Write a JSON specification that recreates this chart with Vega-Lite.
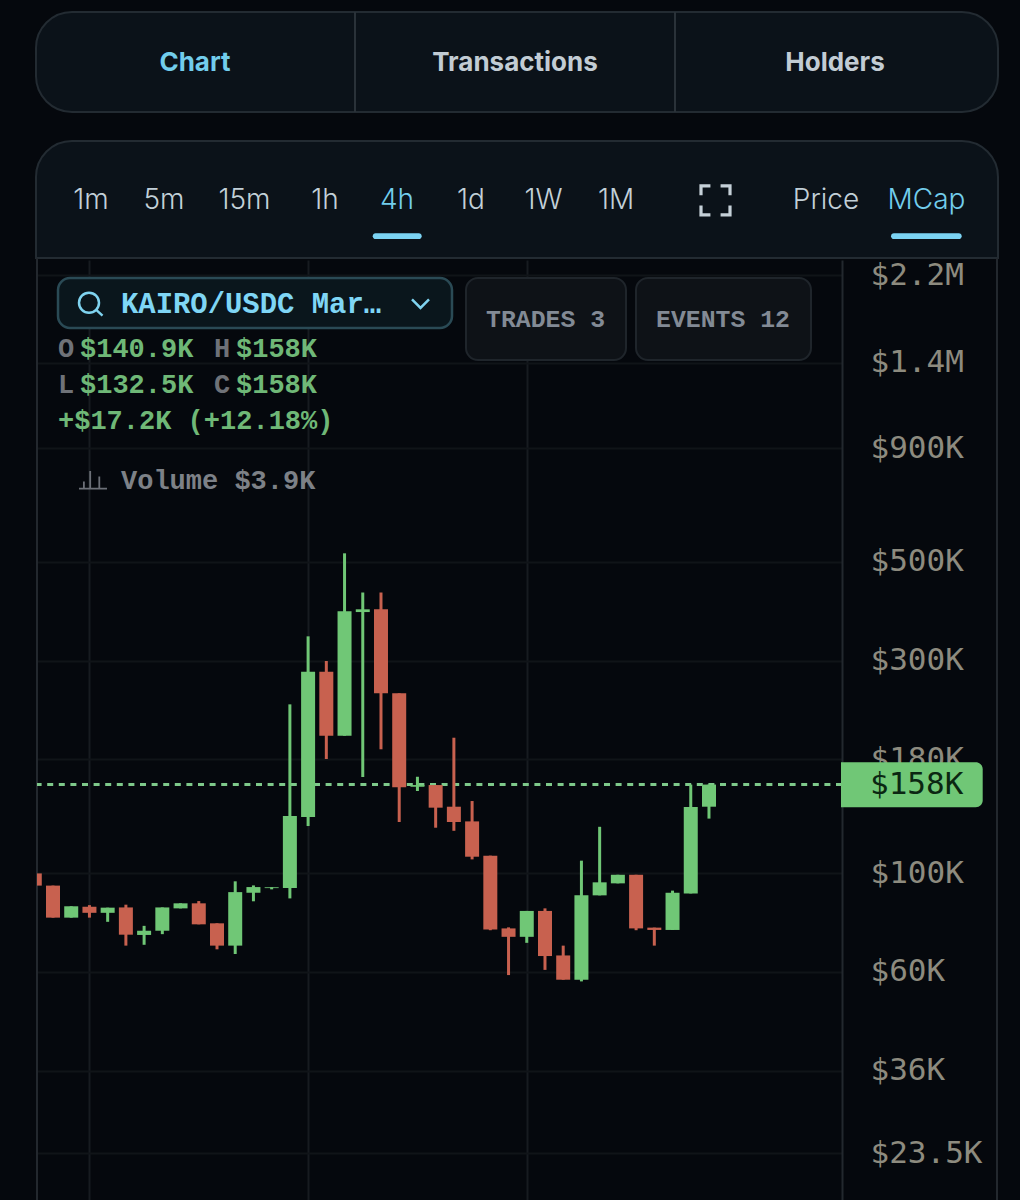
{
"$schema":"https://vega.github.io/schema/vega-lite/v6.json",
"width":805,"height":940,
"autosize":{"type":"none"},
"padding":{"left":37,"top":260,"right":178,"bottom":0},
"background":"#05080d",
"view":{"stroke":null,"fill":null},
"config":{"text":{"align":"left","baseline":"middle"},"view":{"stroke":null}},
"datasets":{
"ui":[{}],
"last":[{"close":158000}],
"candles":[
{"t":-1,"open":99800,"high":99800,"low":93700,"close":93700},
{"t":0,"open":93700,"high":93700,"low":79400,"close":79400},
{"t":1,"open":79400,"high":84200,"low":79400,"close":84200},
{"t":2,"open":84000,"high":84700,"low":79400,"close":81400},
{"t":3,"open":81400,"high":83600,"low":77700,"close":83600},
{"t":4,"open":83700,"high":84900,"low":68700,"close":72700},
{"t":5,"open":72600,"high":76100,"low":69000,"close":74200},
{"t":6,"open":74200,"high":83700,"low":72900,"close":83700},
{"t":7,"open":83300,"high":85500,"low":83300,"close":85500},
{"t":8,"open":85500,"high":86500,"low":76700,"close":76700},
{"t":9,"open":77100,"high":77100,"low":67400,"close":68700},
{"t":10,"open":68700,"high":95800,"low":65800,"close":90600},
{"t":11,"open":90300,"high":93800,"low":86400,"close":93000},
{"t":12,"open":92500,"high":92900,"low":91900,"close":92900},
{"t":13,"open":92500,"high":239200,"low":87700,"close":134300},
{"t":14,"open":133600,"high":340000,"low":127500,"close":283200},
{"t":15,"open":283200,"high":299300,"low":180300,"close":203400},
{"t":16,"open":203400,"high":522300,"low":203400,"close":386900},
{"t":17,"open":385500,"high":426500,"low":164300,"close":391000},
{"t":18,"open":391000,"high":426500,"low":189600,"close":253200},
{"t":19,"open":253200,"high":253200,"low":130200,"close":155800},
{"t":20,"open":156200,"high":164500,"low":152800,"close":157600},
{"t":21,"open":157600,"high":157600,"low":126400,"close":140200},
{"t":22,"open":140900,"high":201300,"low":124400,"close":130200},
{"t":23,"open":130600,"high":145100,"low":107300,"close":108800},
{"t":24,"open":109400,"high":109400,"low":74400,"close":74700},
{"t":25,"open":75100,"high":75500,"low":59000,"close":71900},
{"t":26,"open":71900,"high":82200,"low":69700,"close":82200},
{"t":27,"open":82200,"high":83300,"low":60600,"close":65100},
{"t":28,"open":65300,"high":68700,"low":57600,"close":57600},
{"t":29,"open":57600,"high":106600,"low":57100,"close":89200},
{"t":30,"open":89100,"high":127000,"low":89100,"close":95300},
{"t":31,"open":94800,"high":99100,"low":94800,"close":99100},
{"t":32,"open":99100,"high":99100,"low":74400,"close":75100},
{"t":33,"open":75400,"high":75400,"low":68700,"close":74500},
{"t":34,"open":74500,"high":91300,"low":74500,"close":90300},
{"t":35,"open":90000,"high":158000,"low":90000,"close":140700},
{"t":36,"open":140900,"high":158000,"low":132500,"close":158000}
]},
"layer":[
{"data":{"name":"ui"},"mark":{"type":"rect","fill":"#0b1219","stroke":"#232b32","strokeWidth":2,"cornerRadius":36},"encoding":{"x":{"value":-1},"x2":{"value":961},"y":{"value":-248},"y2":{"value":-148}}},
{"data":{"name":"ui"},"mark":{"type":"rect","fill":"#0b1219","stroke":"#232b32","strokeWidth":2,"cornerRadiusTopLeft":36,"cornerRadiusTopRight":36},"encoding":{"x":{"value":-1},"x2":{"value":961},"y":{"value":-119},"y2":{"value":-2}}},
{"data":{"name":"ui"},"mark":{"type":"rule","stroke":"#2a3239","strokeWidth":2},"encoding":{"x":{"value":318},"y":{"value":-248},"y2":{"value":-148}}},
{"data":{"name":"ui"},"mark":{"type":"rule","stroke":"#2a3239","strokeWidth":2},"encoding":{"x":{"value":638},"y":{"value":-248},"y2":{"value":-148}}},
{"data":{"name":"ui"},"mark":{"type":"rule","stroke":"#23282e","strokeWidth":2},"encoding":{"x":{"value":0},"y":{"value":-2},"y2":{"value":940}}},
{"data":{"name":"ui"},"mark":{"type":"rule","stroke":"#23282e","strokeWidth":2},"encoding":{"x":{"value":960},"y":{"value":-2},"y2":{"value":940}}},
{"data":{"name":"ui"},"mark":{"type":"text","text":"Chart","font":"Inter","fontWeight":700,"fontSize":26,"fill":"#72cdec","align":"center"},"encoding":{"x":{"value":158},"y":{"value":-197.5}}},
{"data":{"name":"ui"},"mark":{"type":"text","text":"Transactions","font":"Inter","fontWeight":700,"fontSize":26,"fill":"#c2ccd4","align":"center"},"encoding":{"x":{"value":478},"y":{"value":-197.5}}},
{"data":{"name":"ui"},"mark":{"type":"text","text":"Holders","font":"Inter","fontWeight":700,"fontSize":26,"fill":"#c2ccd4","align":"center"},"encoding":{"x":{"value":798},"y":{"value":-197.5}}},
{"data":{"name":"ui"},"mark":{"type":"text","text":"1m","font":"Inter","fontWeight":300,"fontSize":28,"fill":"#c2d0d8","align":"center"},"encoding":{"x":{"value":54},"y":{"value":-59}}},
{"data":{"name":"ui"},"mark":{"type":"text","text":"5m","font":"Inter","fontWeight":300,"fontSize":28,"fill":"#c2d0d8","align":"center"},"encoding":{"x":{"value":127},"y":{"value":-59}}},
{"data":{"name":"ui"},"mark":{"type":"text","text":"15m","font":"Inter","fontWeight":300,"fontSize":28,"fill":"#c2d0d8","align":"center"},"encoding":{"x":{"value":207.5},"y":{"value":-59}}},
{"data":{"name":"ui"},"mark":{"type":"text","text":"1h","font":"Inter","fontWeight":300,"fontSize":28,"fill":"#c2d0d8","align":"center"},"encoding":{"x":{"value":288},"y":{"value":-59}}},
{"data":{"name":"ui"},"mark":{"type":"text","text":"4h","font":"Inter","fontWeight":300,"fontSize":28,"fill":"#72cdec","align":"center"},"encoding":{"x":{"value":360},"y":{"value":-59}}},
{"data":{"name":"ui"},"mark":{"type":"text","text":"1d","font":"Inter","fontWeight":300,"fontSize":28,"fill":"#c2d0d8","align":"center"},"encoding":{"x":{"value":434},"y":{"value":-59}}},
{"data":{"name":"ui"},"mark":{"type":"text","text":"1W","font":"Inter","fontWeight":300,"fontSize":28,"fill":"#c2d0d8","align":"center"},"encoding":{"x":{"value":506.5},"y":{"value":-59}}},
{"data":{"name":"ui"},"mark":{"type":"text","text":"1M","font":"Inter","fontWeight":300,"fontSize":28,"fill":"#c2d0d8","align":"center"},"encoding":{"x":{"value":579},"y":{"value":-59}}},
{"data":{"name":"ui"},"mark":{"type":"text","text":"Price","font":"Inter","fontWeight":300,"fontSize":28,"fill":"#c2d0d8","align":"center"},"encoding":{"x":{"value":789},"y":{"value":-59}}},
{"data":{"name":"ui"},"mark":{"type":"text","text":"MCap","font":"Inter","fontWeight":300,"fontSize":28,"fill":"#72cdec","align":"center"},"encoding":{"x":{"value":889.5},"y":{"value":-59}}},
{"data":{"name":"ui"},"mark":{"type":"rect","fill":"#7bd3f3","cornerRadius":3},"encoding":{"x":{"value":335.7},"x2":{"value":384.7},"y":{"value":-26.7},"y2":{"value":-21}}},
{"data":{"name":"ui"},"mark":{"type":"rect","fill":"#7bd3f3","cornerRadius":3},"encoding":{"x":{"value":854},"x2":{"value":924.7},"y":{"value":-26.7},"y2":{"value":-21}}},
{"data":{"name":"ui"},"mark":{"type":"point","shape":"M-1,-0.35 L-1,-1 L-0.35,-1 M0.35,-1 L1,-1 L1,-0.35 M1,0.35 L1,1 L0.35,1 M-0.35,1 L-1,1 L-1,0.35","size":841,"filled":false,"stroke":"#c5d0d8","strokeWidth":3.2,"opacity":1},"encoding":{"x":{"value":678.5},"y":{"value":-59.7}}},
{"data":{"name":"ui"},"mark":{"type":"rect","fill":"#0a161c","stroke":"#2a4a55","strokeWidth":2.5,"cornerRadius":12},"encoding":{"x":{"value":21},"x2":{"value":415},"y":{"value":18},"y2":{"value":68}}},
{"data":{"name":"ui"},"mark":{"type":"point","shape":"M1,0 A1,1 0 1,1 -1,0 A1,1 0 1,1 1,0 M0.72,0.72 L1.35,1.3","size":400,"filled":false,"stroke":"#7fd3ef","strokeWidth":2.5,"opacity":1},"encoding":{"x":{"value":52},"y":{"value":42.7}}},
{"data":{"name":"ui"},"mark":{"type":"text","text":"KAIRO/USDC Mar…","font":"Liberation Mono","fontWeight":700,"fontSize":28.9,"fill":"#7fd6f5"},"encoding":{"x":{"value":84},"y":{"value":43.5}}},
{"data":{"name":"ui"},"mark":{"type":"point","shape":"M-1,-0.5 L0,0.5 L1,-0.5","size":289,"filled":false,"stroke":"#7fd3ef","strokeWidth":2.5,"opacity":1},"encoding":{"x":{"value":383.5},"y":{"value":43.7}}},
{"data":{"name":"ui"},"mark":{"type":"rect","fill":"#0e1217","stroke":"#1f252b","strokeWidth":2,"cornerRadius":12},"encoding":{"x":{"value":429},"x2":{"value":589},"y":{"value":18},"y2":{"value":100}}},
{"data":{"name":"ui"},"mark":{"type":"rect","fill":"#0e1217","stroke":"#1f252b","strokeWidth":2,"cornerRadius":12},"encoding":{"x":{"value":599},"x2":{"value":774},"y":{"value":18},"y2":{"value":100}}},
{"data":{"name":"ui"},"mark":{"type":"text","text":"TRADES 3","font":"Liberation Mono","fontWeight":700,"fontSize":24.8,"fill":"#828a95"},"encoding":{"x":{"value":449},"y":{"value":59.5}}},
{"data":{"name":"ui"},"mark":{"type":"text","text":"EVENTS 12","font":"Liberation Mono","fontWeight":700,"fontSize":24.8,"fill":"#828a95"},"encoding":{"x":{"value":619},"y":{"value":59.5}}},
{"data":{"name":"ui"},"mark":{"type":"text","text":"O","font":"Liberation Mono","fontWeight":700,"fontSize":27,"fill":"#6f7278"},"encoding":{"x":{"value":21},"y":{"value":89}}},
{"data":{"name":"ui"},"mark":{"type":"text","text":"$140.9K","font":"Liberation Mono","fontWeight":700,"fontSize":27,"fill":"#6fb877"},"encoding":{"x":{"value":43},"y":{"value":89}}},
{"data":{"name":"ui"},"mark":{"type":"text","text":"H","font":"Liberation Mono","fontWeight":700,"fontSize":27,"fill":"#6f7278"},"encoding":{"x":{"value":177},"y":{"value":89}}},
{"data":{"name":"ui"},"mark":{"type":"text","text":"$158K","font":"Liberation Mono","fontWeight":700,"fontSize":27,"fill":"#6fb877"},"encoding":{"x":{"value":199},"y":{"value":89}}},
{"data":{"name":"ui"},"mark":{"type":"text","text":"L","font":"Liberation Mono","fontWeight":700,"fontSize":27,"fill":"#6f7278"},"encoding":{"x":{"value":21},"y":{"value":125}}},
{"data":{"name":"ui"},"mark":{"type":"text","text":"$132.5K","font":"Liberation Mono","fontWeight":700,"fontSize":27,"fill":"#6fb877"},"encoding":{"x":{"value":43},"y":{"value":125}}},
{"data":{"name":"ui"},"mark":{"type":"text","text":"C","font":"Liberation Mono","fontWeight":700,"fontSize":27,"fill":"#6f7278"},"encoding":{"x":{"value":177},"y":{"value":125}}},
{"data":{"name":"ui"},"mark":{"type":"text","text":"$158K","font":"Liberation Mono","fontWeight":700,"fontSize":27,"fill":"#6fb877"},"encoding":{"x":{"value":199},"y":{"value":125}}},
{"data":{"name":"ui"},"mark":{"type":"text","text":"+$17.2K (+12.18%)","font":"Liberation Mono","fontWeight":700,"fontSize":27,"fill":"#6fb877"},"encoding":{"x":{"value":21},"y":{"value":161}}},
{"data":{"name":"ui"},"mark":{"type":"point","shape":"M-1,0.62 L1,0.62 M-0.65,0.6 L-0.65,0.1 M-0.2,0.6 L-0.2,-0.65 M0.45,0.6 L0.45,-0.25","size":784,"filled":false,"stroke":"#6c7078","strokeWidth":1.8,"opacity":1},"encoding":{"x":{"value":56},"y":{"value":220}}},
{"data":{"name":"ui"},"mark":{"type":"text","text":"Volume $3.9K","font":"Liberation Mono","fontWeight":700,"fontSize":27,"fill":"#7d8187"},"encoding":{"x":{"value":84},"y":{"value":221}}},
{"data":{"name":"last"},"mark":{"type":"rule","stroke":"#7ec98a","strokeWidth":3,"strokeDash":[6,5.6]},"encoding":{"y":{"field":"close","type":"quantitative"}}},
{"data":{"name":"candles"},"mark":{"type":"rule","strokeWidth":3,"clip":true},
 "encoding":{
  "x":{"field":"t","type":"quantitative","scale":{"domain":[-0.878,43.3],"nice":false,"zero":false,"padding":0},
   "axis":{"title":null,"values":[2,14,26],"labels":false,"ticks":false,"domain":false,"grid":true,"gridColor":"#171b20","gridWidth":2}},
  "y":{"field":"low","type":"quantitative","scale":{"type":"log","domain":[18440,2380000],"nice":false},
   "axis":{"title":null,"orient":"right","values":[2200000,1400000,900000,500000,300000,180000,100000,60000,36000,23500],
    "labelExpr":"'$' + (datum.value >= 1000000 ? datum.value / 1000000 + 'M' : datum.value / 1000 + 'K')",
    "labelFont":"DejaVu Sans Mono","labelFontSize":31,"labelColor":"#8d8b7f","labelAlign":"left","labelBaseline":"middle","labelPadding":28,"labelOverlap":false,"labelFlush":false,"labelBound":false,
    "ticks":false,"domain":true,"domainColor":"#23282e","domainWidth":2,"grid":true,"gridColor":"#101418","gridWidth":2}},
  "y2":{"field":"high"},
  "color":{"condition":{"test":"datum.close >= datum.open","value":"#70c776"},"value":"#c8614f"}}},
{"data":{"name":"candles"},"mark":{"type":"bar","size":14,"clip":true},
 "encoding":{
  "x":{"field":"t","type":"quantitative"},
  "y":{"field":"open","type":"quantitative"},
  "y2":{"field":"close"},
  "color":{"condition":{"test":"datum.close >= datum.open","value":"#70c776"},"value":"#c8614f"}}},
{"data":{"name":"ui"},"mark":{"type":"rect","fill":"#70c776","cornerRadiusTopRight":7,"cornerRadiusBottomRight":7},"encoding":{"x":{"value":804},"x2":{"value":945.7},"y":{"value":502.3},"y2":{"value":547.3}}},
{"data":{"name":"last"},"mark":{"type":"text","text":"$158K","font":"DejaVu Sans Mono","fontSize":31,"fill":"#0b2712"},"encoding":{"x":{"value":833},"y":{"field":"close","type":"quantitative"}}}
]
}
